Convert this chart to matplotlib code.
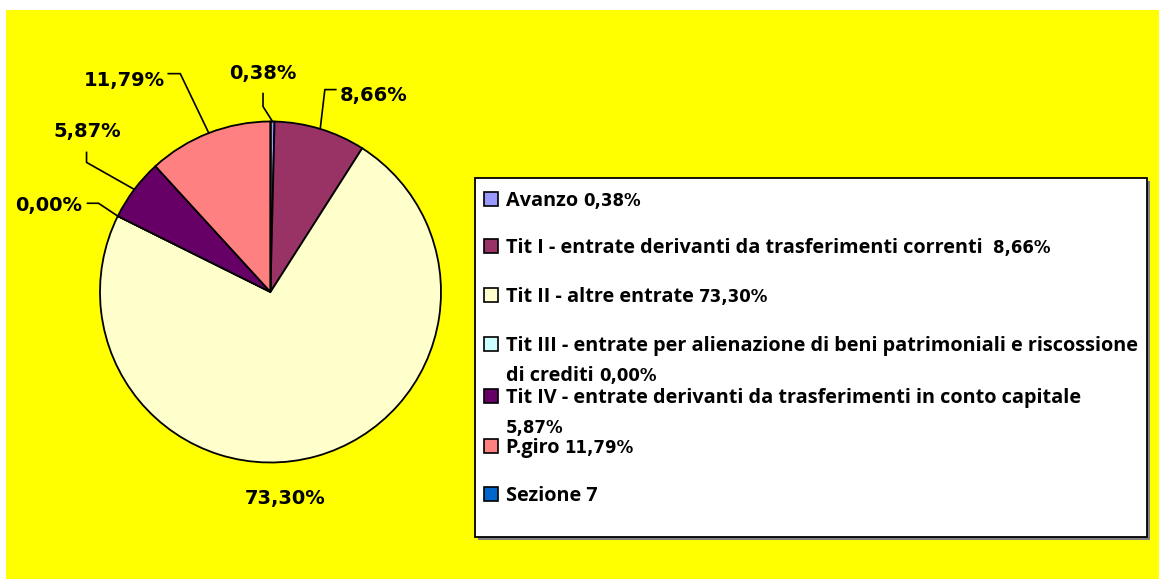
import matplotlib
matplotlib.use("Agg")
import matplotlib.pyplot as plt
from matplotlib.patches import Rectangle
import numpy as np

# dati
names = ['Avanzo',
         'Tit I - entrate derivanti da trasferimenti correnti',
         'Tit II - altre entrate',
         'Tit III - entrate per alienazione di beni patrimoniali e riscossione di crediti',
         'Tit IV - entrate derivanti da trasferimenti in conto capitale',
         'P.giro',
         'Sezione 7']
shares = [0.38, 8.66, 73.30, 0.00, 5.87, 11.79, 0.00]
show_value = [True, True, True, True, True, True, False]
colors = ['#9999FF', '#993366', '#FFFFCC', '#CCFFFF', '#660066', '#FF8080', '#0066CC']

W, H = 1159, 579
fig = plt.figure(figsize=(W / 100, H / 100), dpi=100)
fig.patch.set_facecolor('white')

# overlay in pixel
lax = fig.add_axes([0, 0, 1, 1])
lax.set_xlim(0, W)
lax.set_ylim(H, 0)
lax.axis('off')
lax.add_patch(Rectangle((6, 10), W - 6, H - 10, facecolor='#FFFF00', edgecolor='none', zorder=0))


def fmt(v):
    return ('%.2f%%' % v).replace('.', ',')


# torta
cx, cy, r = 270.5, 292, 171
ax = fig.add_axes([100 / W, 1 - 463 / H, 341 / W, 342 / H])
ax.set_facecolor('#C0C0C0')
for s in ax.spines.values():
    s.set_color('#808080')
    s.set_linewidth(1.5)
ax.set_xticks([])
ax.set_yticks([])
ax.pie(shares, colors=colors, startangle=90, counterclock=False, radius=1,
       wedgeprops=dict(edgecolor='black', linewidth=1.3))
ax.set_xlim(-1, 1)
ax.set_ylim(-1, 1)
ax.set_aspect('equal')


def px(x, y):
    return ((x - cx) / r, (cy - y) / r)


# posizione etichette (pixel): baseline centro testo, gomito, inizio linea
label_pos = [(263, 78), (374, 100), (285, 505), (48, 211), (87, 137), (124, 85)]
label_elbow = [(263, 106), (325, 89), None, (98, 203), (86, 162), (180, 73)]
label_start = [(263, 93), (336, 89), None, (87, 203), (86, 152), (168, 73)]

ang = 90.0
for i, v in enumerate(shares):
    span = v * 3.6
    mid = np.radians(ang - span / 2)
    ang -= span
    if not show_value[i]:
        continue
    tx, ty = px(*label_pos[i])
    ax.text(tx, ty, fmt(v), ha='center', va='baseline', fontsize=14, fontweight='bold',
            family=['DejaVu Sans'], clip_on=False)
    if label_elbow[i] is not None:
        ex, ey = px(*label_elbow[i])
        sx, sy = px(*label_start[i])
        ax.plot([sx, ex, np.cos(mid)], [sy, ey, np.sin(mid)], color='black', lw=1.2,
                clip_on=False, zorder=5)

# legenda
lax.add_patch(Rectangle((478, 181), 672, 359, facecolor='#808080', edgecolor='none', zorder=1))
lax.add_patch(Rectangle((475, 178), 672, 359, facecolor='white', edgecolor='black', lw=1.3, zorder=2))

row_base = [206, 253, 302, 351, 403, 453, 501]
line_gap = 30
breaks = {3: 'riscossione', 4: 'capitale'}

renderer = fig.canvas.get_renderer()
for i, name in enumerate(names):
    y = row_base[i]
    lax.add_patch(Rectangle((484, y - 14), 14, 14, facecolor=colors[i], edgecolor='black',
                            lw=1.2, zorder=3))
    num = fmt(shares[i]) if show_value[i] else ''
    if i in breaks:
        k = name.index(breaks[i]) + len(breaks[i])
        rest = name[k:].strip()
        lines = [(name[:k], ''), ((rest + ' ') if rest else '', num)]
    else:
        sep = '  ' if i == 1 else ' '
        lines = [(name + (sep if num else ''), num)]
    for j, (words, n) in enumerate(lines):
        yy = y + j * line_gap
        x0 = 506
        if words:
            t = lax.text(x0, yy, words, va='baseline', ha='left', fontsize=14.3,
                         fontweight='bold', family=['Open Sans', 'DejaVu Sans'], zorder=4)
            bb = t.get_window_extent(renderer=renderer)
            x0 = bb.x1
        if n:
            lax.text(x0, yy, n, va='baseline', ha='left', fontsize=12,
                     fontweight='bold', family=['DejaVu Sans'], zorder=4)

fig.savefig('out.png', dpi=100, facecolor=fig.get_facecolor())
